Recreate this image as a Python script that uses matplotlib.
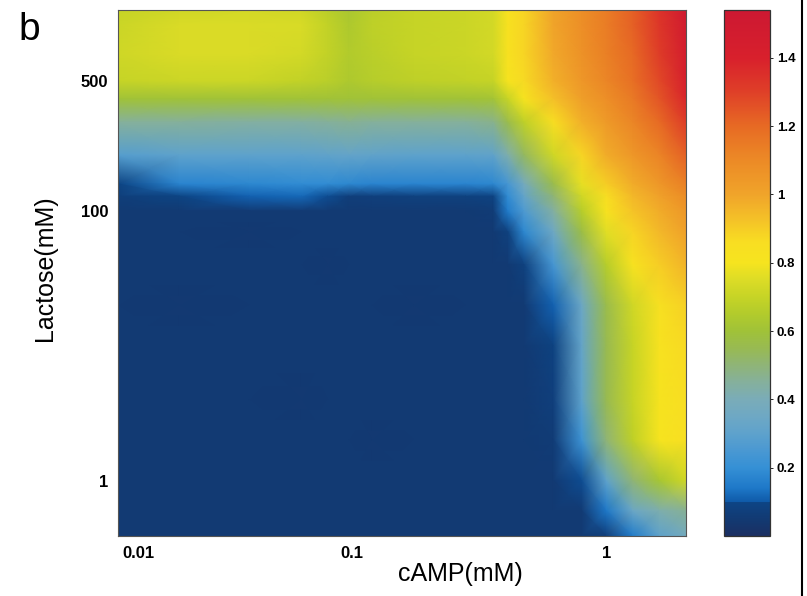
import numpy as np
import matplotlib
matplotlib.use("Agg")
import matplotlib.pyplot as plt
from matplotlib.colors import LinearSegmentedColormap, Normalize
from matplotlib.lines import Line2D
from matplotlib.ticker import NullLocator

plt.rcParams['font.family'] = ['Liberation Sans', 'DejaVu Sans']

# ---------------- data ----------------
camp = [0.008, 0.0155, 0.033, 0.058, 0.077, 0.097, 0.12, 0.175, 0.28, 0.36,
        0.41, 0.475, 0.62, 0.8, 1.0, 1.27, 1.62, 2.06]           # cAMP (mM)
lactose = [1200, 1000, 700, 500, 400, 300, 200, 140, 120, 100,
           70, 40, 20, 10, 4, 2, 1, 0.6, 0.39]                   # Lactose (mM)

# response (rows follow `lactose`, columns follow `camp`)
response = [
    [0.70, 0.72, 0.73, 0.72, 0.67, 0.63, 0.67, 0.70, 0.71, 0.73, 0.83, 0.88, 1.00, 1.08, 1.14, 1.22, 1.34, 1.50],
    [0.71, 0.745, 0.745, 0.74, 0.69, 0.64, 0.68, 0.70, 0.71, 0.73, 0.83, 0.88, 1.00, 1.08, 1.14, 1.22, 1.33, 1.48],
    [0.72, 0.745, 0.745, 0.73, 0.69, 0.65, 0.67, 0.70, 0.71, 0.73, 0.83, 0.88, 0.99, 1.07, 1.13, 1.20, 1.31, 1.45],
    [0.70, 0.71, 0.71, 0.69, 0.67, 0.64, 0.66, 0.68, 0.69, 0.70, 0.81, 0.87, 0.97, 1.05, 1.11, 1.18, 1.28, 1.42],
    [0.60, 0.60, 0.60, 0.60, 0.60, 0.60, 0.60, 0.60, 0.60, 0.61, 0.70, 0.81, 0.93, 1.02, 1.08, 1.15, 1.25, 1.38],
    [0.45, 0.45, 0.44, 0.44, 0.45, 0.46, 0.45, 0.45, 0.45, 0.47, 0.56, 0.68, 0.86, 0.97, 1.04, 1.11, 1.20, 1.31],
    [0.28, 0.30, 0.30, 0.30, 0.31, 0.32, 0.31, 0.30, 0.30, 0.31, 0.42, 0.53, 0.72, 0.88, 0.98, 1.05, 1.12, 1.22],
    [0.095, 0.17, 0.18, 0.19, 0.19, 0.18, 0.17, 0.17, 0.17, 0.18, 0.24, 0.38, 0.56, 0.77, 0.90, 0.98, 1.05, 1.13],
    [0.07, 0.095, 0.11, 0.12, 0.10, 0.07, 0.075, 0.08, 0.08, 0.09, 0.19, 0.32, 0.50, 0.72, 0.86, 0.95, 1.01, 1.09],
    [0.05, 0.05, 0.05, 0.05, 0.05, 0.05, 0.05, 0.05, 0.05, 0.06, 0.15, 0.26, 0.44, 0.66, 0.82, 0.92, 0.98, 1.05],
    [0.05, 0.05, 0.048, 0.05, 0.05, 0.05, 0.05, 0.05, 0.05, 0.05, 0.08, 0.18, 0.35, 0.57, 0.76, 0.88, 0.95, 1.01],
    [0.05, 0.05, 0.05, 0.05, 0.048, 0.05, 0.05, 0.05, 0.05, 0.05, 0.05, 0.08, 0.24, 0.47, 0.66, 0.82, 0.90, 0.96],
    [0.05, 0.048, 0.05, 0.05, 0.05, 0.05, 0.05, 0.048, 0.05, 0.05, 0.05, 0.05, 0.11, 0.34, 0.56, 0.72, 0.84, 0.89],
    [0.05, 0.05, 0.05, 0.05, 0.05, 0.05, 0.05, 0.05, 0.05, 0.05, 0.05, 0.05, 0.085, 0.32, 0.55, 0.70, 0.82, 0.87],
    [0.05, 0.05, 0.05, 0.048, 0.05, 0.05, 0.05, 0.05, 0.05, 0.05, 0.05, 0.05, 0.075, 0.30, 0.55, 0.70, 0.81, 0.86],
    [0.05, 0.05, 0.05, 0.05, 0.05, 0.05, 0.048, 0.05, 0.05, 0.05, 0.05, 0.05, 0.06, 0.22, 0.50, 0.68, 0.80, 0.85],
    [0.05, 0.05, 0.05, 0.05, 0.05, 0.05, 0.05, 0.05, 0.05, 0.05, 0.05, 0.05, 0.05, 0.10, 0.30, 0.50, 0.62, 0.72],
    [0.05, 0.05, 0.05, 0.05, 0.05, 0.05, 0.05, 0.05, 0.05, 0.05, 0.05, 0.05, 0.05, 0.05, 0.14, 0.34, 0.42, 0.46],
    [0.05, 0.05, 0.05, 0.05, 0.05, 0.05, 0.05, 0.05, 0.05, 0.05, 0.05, 0.05, 0.05, 0.05, 0.07, 0.15, 0.30, 0.37],
]

x_ticks = [0.01, 0.1, 1]
x_ticklabels = ['0.01', '0.1', '1']
y_ticks = [1, 100, 500]
y_ticklabels = ['1', '100', '500']
cb_ticks = [0.2, 0.4, 0.6, 0.8, 1.0, 1.2, 1.4]
cb_ticklabels = ['0.2', '0.4', '0.6', '0.8', '1', '1.2', '1.4']
vmin, vmax = 0.0, 1.54

# colour map (value, colour)
cmap_stops = [
    (0.000, '#1b2f62'), (0.050, '#123a73'), (0.099, '#0d4585'), (0.100, '#0f5aa8'),
    (0.140, '#1e78c8'), (0.200, '#3590d5'), (0.250, '#4a98d2'), (0.300, '#5ea2cc'),
    (0.350, '#6ea8c4'), (0.400, '#7aacb8'), (0.450, '#85b09c'), (0.500, '#8fb477'),
    (0.550, '#98ba52'), (0.600, '#a0c238'), (0.650, '#b2cb2c'), (0.700, '#c6d426'),
    (0.750, '#dcdc26'), (0.800, '#f6e41f'), (0.860, '#f8de22'), (0.930, '#f4c028'),
    (1.000, '#f0a42a'), (1.100, '#ec8a26'), (1.200, '#e76a24'), (1.300, '#df4028'),
    (1.400, '#d8202c'), (1.540, '#cc1832'),
]
cmap = LinearSegmentedColormap.from_list(
    'lac', [((v - vmin) / (vmax - vmin), c) for v, c in cmap_stops], N=1024)
norm = Normalize(vmin=vmin, vmax=vmax)

# axis scales: log pieces with different stretch (as in the original figure)
KY = 188.0 / 136.0     # lactose above 100 mM
KX = 254.0 / 213.0     # cAMP above 0.1 mM


def fwd_y(v):
    v = np.asarray(v, dtype=float)
    l = np.log10(np.clip(v, 1e-9, None))
    return np.where(l <= 2, l, 2 + (l - 2) * KY)


def inv_y(t):
    t = np.asarray(t, dtype=float)
    return np.where(t <= 2, 10.0 ** t, 10.0 ** (2 + (t - 2) / KY))


def fwd_x(v):
    v = np.asarray(v, dtype=float)
    l = np.log10(np.clip(v, 1e-9, None))
    return np.where(l <= -1, l, -1 + (l + 1) * KX)


def inv_x(t):
    t = np.asarray(t, dtype=float)
    return np.where(t <= -1, 10.0 ** t, 10.0 ** (-1 + (t + 1) / KX))


# ---------------- figure ----------------
W, H = 807, 596
fig = plt.figure(figsize=(W / 100, H / 100), dpi=100)
ax = fig.add_axes([118 / W, 1 - 536 / H, 568 / W, 526 / H])
cax = fig.add_axes([724 / W, 1 - 536 / H, 46 / W, 526 / H])

ax.set_xscale('function', functions=(fwd_x, inv_x))
ax.set_yscale('function', functions=(fwd_y, inv_y))
X, Y = np.meshgrid(np.array(camp), np.array(lactose))
mesh = ax.pcolormesh(X, Y, np.array(response), shading='gouraud', cmap=cmap, norm=norm)
ax.set_xlim(camp[0], camp[-1])
ax.set_ylim(lactose[-1], lactose[0])

ax.set_xticks(x_ticks)
ax.set_xticklabels(x_ticklabels)
ax.set_yticks(y_ticks)
ax.set_yticklabels(y_ticklabels)
ax.xaxis.set_minor_locator(NullLocator())
ax.yaxis.set_minor_locator(NullLocator())
ax.tick_params(length=0, labelsize=12, pad=7)
for lbl in ax.get_xticklabels() + ax.get_yticklabels():
    lbl.set_fontweight('bold')
for s in ax.spines.values():
    s.set_color('#555555')
    s.set_linewidth(0.8)

ax.set_xlabel('cAMP(mM)', fontsize=18)
ax.xaxis.set_label_coords((460 - 118) / 568, -(562 - 536) / 526)
ax.set_ylabel('Lactose(mM)', fontsize=18)
ax.yaxis.set_label_coords(-(118 - 57) / 568, (536 - 268) / 526)

cb = fig.colorbar(mesh, cax=cax, ticks=cb_ticks)
cb.ax.set_yticklabels(cb_ticklabels)
cb.ax.tick_params(length=2, width=0.6, labelsize=9.5, pad=3)
for lbl in cb.ax.get_yticklabels():
    lbl.set_fontweight('bold')
cb.outline.set_linewidth(0.9)
cb.outline.set_edgecolor('#333333')

fig.text(18 / W, 1 - 12 / H, 'b', fontsize=28, va='top', ha='left')
fig.add_artist(Line2D([802 / W, 802 / W], [0, 1], color='black', lw=1.5,
                      transform=fig.transFigure))

fig.savefig('out.png', dpi=100)
